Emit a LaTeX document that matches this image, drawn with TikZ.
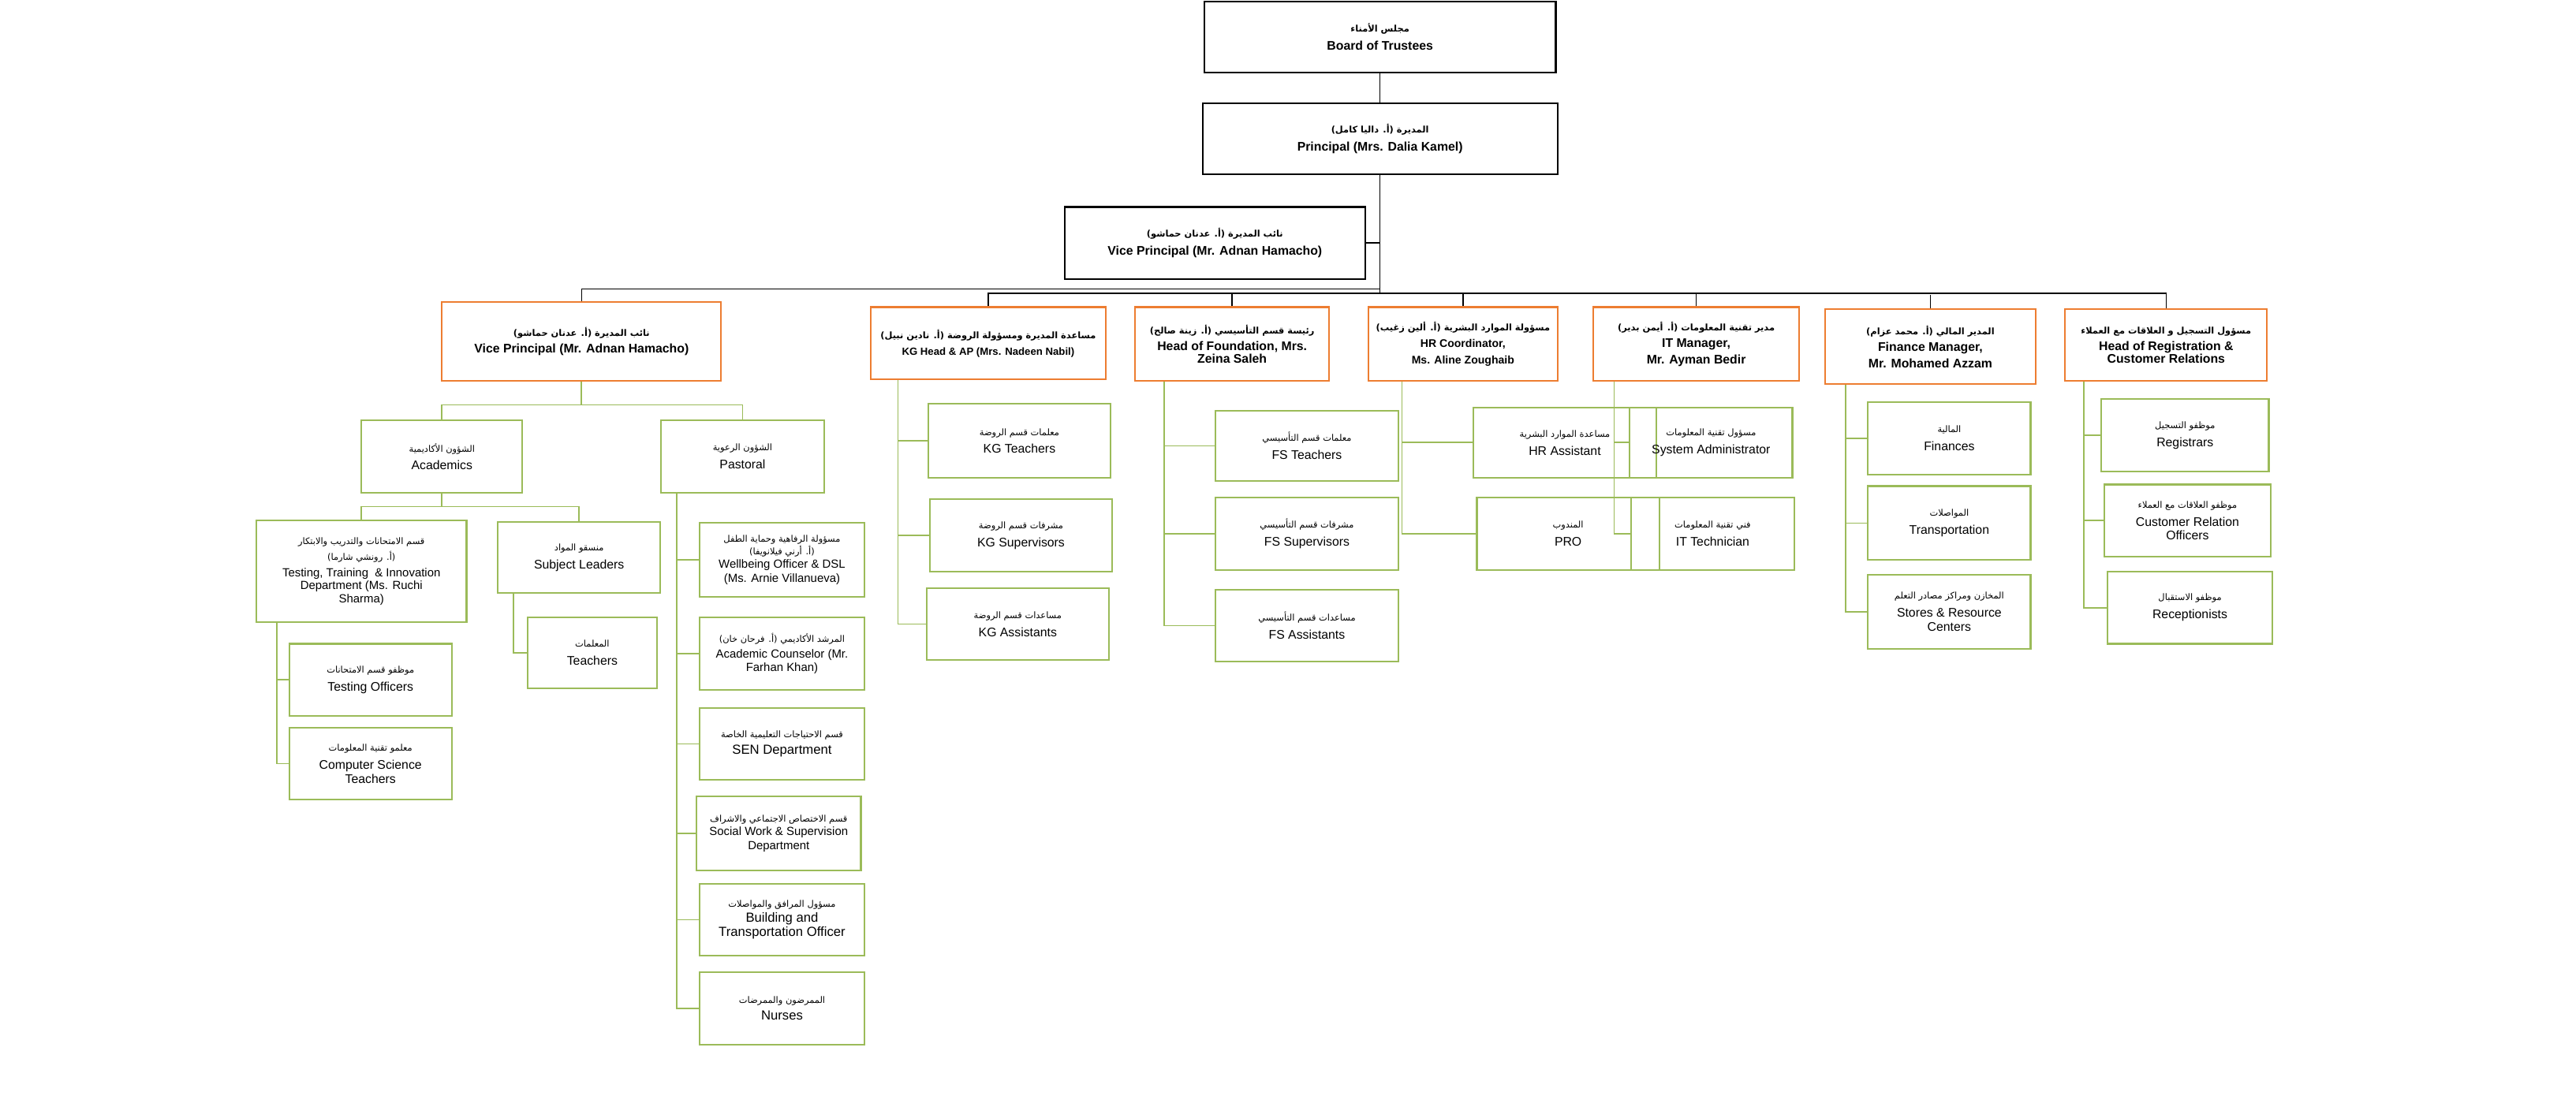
\documentclass[tikz,border=0pt]{standalone}
\usepackage{fontspec}
\setmainfont{Liberation Sans}
\newfontfamily\arabicfont[Script=Arabic]{DejaVu Sans}
\TeXXeTstate=1
\usetikzlibrary{positioning}
\definecolor{org_orange}{RGB}{237,125,49}
\definecolor{org_green}{RGB}{155,187,89}
\newcommand{\ar}[1]{{\arabicfont\fontsize{6.5}{9}\selectfont\beginR #1\endR}}
\tikzstyle{sz}=[minimum width=#1*0.04166cm]
\tikzstyle{ht}=[minimum height=#1*0.04166cm]
\tikzstyle{kbox}=[draw=black,line width=1.2pt,align=center,inner sep=1pt,
  font=\fontsize{9}{13}\selectfont\bfseries]
\tikzstyle{obox}=[draw=org_orange,line width=1.2pt,align=center,inner sep=1pt,
  font=\fontsize{9}{12}\selectfont\bfseries]
\tikzstyle{gbox}=[draw=org_green,line width=1.2pt,align=center,inner sep=1pt,
  font=\fontsize{9}{13}\selectfont]
\tikzstyle{pbox}=[gbox,font=\fontsize{8.5}{10}\selectfont]
\tikzstyle{kline}=[draw=black,line width=0.9pt]
\tikzstyle{gline}=[draw=org_green,line width=1pt]

\begin{document}
\begin{tikzpicture}[x=0.04166cm,y=-0.04166cm]
    \useasboundingbox (0,0) rectangle (1568,674);
    % top
    \node [kbox,sz=214,ht=43] (board) at (840,22.5) {\ar{مجلس الأمناء}\\Board of Trustees};
    \node [kbox,sz=216,ht=43] (prin) at (840,84.5) {\ar{المديرة (أ. داليا كامل)}\\Principal (Mrs. Dalia Kamel)};
    \node [kbox,sz=183,ht=44] (vp) at (739.5,148) {\ar{نائب المديرة (أ. عدنان حماشو)}\\Vice Principal (Mr. Adnan Hamacho)};
    \coordinate (busl) at (840,176);
    \coordinate (busr) at (840,179);
    % heads
    \node [obox,sz=170,ht=48] (lvp) at (354,208) {\ar{نائب المديرة (أ. عدنان حماشو)}\\Vice Principal (Mr. Adnan Hamacho)};
    \node [obox,sz=143,ht=44,font=\fontsize{7.5}{12}\selectfont\bfseries] (kg) at (601.5,209) {\ar{مساعدة المديرة ومسؤولة الروضة (أ. نادين نبيل)}\\KG Head \& AP (Mrs. Nadeen Nabil)};
    \node [obox,sz=118,ht=45] (fs) at (750,209.5) {\ar{رئيسة قسم التأسيسي (أ. زينة صالح)}\\Head of Foundation, Mrs.\\[-3pt]Zeina Saleh};
    \node [obox,sz=115,ht=45,font=\fontsize{8}{12}\selectfont\bfseries] (hr) at (890.5,209.5) {\ar{مسؤولة الموارد البشرية (أ. ألين زغيب)}\\HR Coordinator,\\Ms. Aline Zoughaib};
    \node [obox,sz=125,ht=45] (it) at (1032.5,209.5) {\ar{مدير تقنية المعلومات (أ. أيمن بدير)}\\IT Manager,\\Mr. Ayman Bedir};
    \node [obox,sz=128,ht=46] (fin) at (1175,211) {\ar{المدير المالي (أ. محمد عزام)}\\Finance Manager,\\Mr. Mohamed Azzam};
    \node [obox,sz=123,ht=44] (reg) at (1318.5,210) {\ar{مسؤول التسجيل و العلاقات مع العملاء}\\Head of Registration \&\\[-3pt]Customer Relations};
    \draw [kline] (board) -- (prin);
    \draw [kline] (prin) -- (busr);
    \draw [kline] (vp.east) -- (vp.east -| prin.south);
    \draw [kline] (lvp.north) |- (busl);
    \draw [kline] (kg.north) -- ++(0,-8) -| (reg.north);
    \foreach \h in {fs,hr,it,fin} \draw [kline] (\h.north) -- ++(0,-8);
    % KG
    \node [gbox,sz=111,ht=45] (kgt) at (620.5,268.5) {\ar{معلمات قسم الروضة}\\KG Teachers};
    \node [gbox,sz=111,ht=44] (kgs) at (621.5,326) {\ar{مشرفات قسم الروضة}\\KG Supervisors};
    \node [gbox,sz=111,ht=44] (kga) at (619.5,380) {\ar{مساعدات قسم الروضة}\\KG Assistants};
    \foreach \c in {kgt,kgs,kga} \draw [gline] ([xshift=0.71cm]kg.south west) |- (\c.west);
    % FS
    \node [gbox,sz=111,ht=43] (fst) at (795.5,271.5) {\ar{معلمات قسم التأسيسي}\\FS Teachers};
    \node [gbox,sz=111,ht=44] (fss) at (795.5,325) {\ar{مشرفات قسم التأسيسي}\\FS Supervisors};
    \node [gbox,sz=111,ht=44] (fsa) at (795.5,381) {\ar{مساعدات قسم التأسيسي}\\FS Assistants};
    \foreach \c in {fst,fss,fsa} \draw [gline] ([xshift=0.75cm]fs.south west) |- (\c.west);
    % HR
    \node [gbox,sz=111,ht=43] (hra) at (952.5,269.5) {\ar{مساعدة الموارد البشرية}\\HR Assistant};
    \node [gbox,sz=111,ht=44] (pro) at (954.5,325) {\ar{المندوب}\\PRO};
    \foreach \c in {hra,pro} \draw [gline] ([xshift=0.87cm]hr.south west) |- (\c.west);
    % IT
    \node [gbox,sz=99,ht=43] (sys) at (1041.5,269.5) {\ar{مسؤول تقنية المعلومات}\\System Administrator};
    \node [gbox,sz=99,ht=44] (itt) at (1042.5,325) {\ar{فني تقنية المعلومات}\\IT Technician};
    \foreach \c in {sys,itt} \draw [gline] ([xshift=0.54cm]it.south west) |- (\c.west);
    % Finance
    \node [gbox,sz=99,ht=44] (fnc) at (1186.5,267) {\ar{المالية}\\Finances};
    \node [gbox,sz=99,ht=45] (trn) at (1186.5,318.5) {\ar{المواصلات}\\Transportation};
    \node [gbox,sz=99,ht=45] (sto) at (1186.5,372.5) {\ar{المخازن ومراكز مصادر التعلم}\\Stores \& Resource\\[-3pt]Centers};
    \foreach \c in {fnc,trn,sto} \draw [gline] ([xshift=0.54cm]fin.south west) |- (\c.west);
    % Registration
    \node [gbox,sz=102,ht=44] (rgs) at (1330,265) {\ar{موظفو التسجيل}\\Registrars};
    \node [gbox,sz=101,ht=44] (cro) at (1331.5,317) {\ar{موظفو العلاقات مع العملاء}\\Customer Relation\\[-3pt]Officers};
    \node [gbox,sz=100,ht=44] (rcp) at (1333,370) {\ar{موظفو الاستقبال}\\Receptionists};
    \foreach \c in {rgs,cro,rcp} \draw [gline] ([xshift=0.5cm]reg.south west) |- (\c.west);
    % Academics and Pastoral
    \node [gbox,sz=98,ht=44] (acad) at (269,278) {\ar{الشؤون الأكاديمية}\\Academics};
    \node [gbox,sz=99,ht=44] (past) at (452,278) {\ar{الشؤون الرعوية}\\Pastoral};
    \draw [gline] (lvp.south) -- ++(0,14) -| (acad.north);
    \draw [gline] (lvp.south) ++(0,14) -| (past.north);
    \node [gbox,sz=128,ht=62,font=\fontsize{8.5}{9.5}\selectfont] (test) at (220,348) {\ar{قسم الامتحانات والتدريب والابتكار}\\[2pt]\ar{(أ. رونشي شارما)}\\[2pt]Testing, Training \ \& Innovation\\Department (Ms. Ruchi\\Sharma)};
    \node [gbox,sz=99,ht=43] (subj) at (352.5,339.5) {\ar{منسقو المواد}\\Subject Leaders};
    \draw [gline] (acad.south) -- ++(0,8) -| (test.north);
    \draw [gline] (acad.south) ++(0,8) -| (subj.north);
    \node [gbox,sz=79,ht=43] (tch) at (360.5,397.5) {\ar{المعلمات}\\Teachers};
    \draw [gline] ([xshift=0.42cm]subj.south west) |- (tch.west);
    \node [gbox,sz=99,ht=44] (tof) at (225.5,414) {\ar{موظفو قسم الامتحانات}\\Testing Officers};
    \node [gbox,sz=99,ht=44] (cst) at (225.5,465) {\ar{معلمو تقنية المعلومات}\\Computer Science\\[-3pt]Teachers};
    \foreach \c in {tof,cst} \draw [gline] ([xshift=0.54cm]test.south west) |- (\c.west);
    % Pastoral staff
    \node [pbox,sz=100,ht=45] (well) at (476,341) {\ar{مسؤولة الرفاهية وحماية الطفل}\\[-1pt]\ar{(أ. أرني فيلانويفا)}\\Wellbeing Officer \& DSL\\(Ms. Arnie Villanueva)};
    \node [pbox,sz=100,ht=44] (couns) at (476,398) {\ar{المرشد الأكاديمي (أ. فرحان خان)}\\[1pt]Academic Counselor (Mr.\\Farhan Khan)};
    \node [pbox,sz=100,ht=44] (sen) at (476,453) {\ar{قسم الاحتياجات التعليمية الخاصة}\\[2pt]{\fontsize{9.5}{11}\selectfont SEN Department}};
    \node [pbox,sz=100,ht=45] (soc) at (474,507.5) {\ar{قسم الاختصاص الاجتماعي والاشراف}\\Social Work \& Supervision\\Department};
    \node [pbox,sz=100,ht=44] (bld) at (476,560) {\ar{مسؤول المرافق والمواصلات}\\[1pt]{\fontsize{9.5}{10.5}\selectfont Building and}\\{\fontsize{9.5}{10.5}\selectfont Transportation Officer}};
    \node [pbox,sz=100,ht=44] (nur) at (476,614) {\ar{الممرضون والممرضات}\\[2pt]{\fontsize{9.5}{11}\selectfont Nurses}};
    \foreach \c in {well,couns,sen,soc,bld,nur} \draw [gline] ([xshift=0.42cm]past.south west) |- (\c.west);
\end{tikzpicture}
\end{document}
